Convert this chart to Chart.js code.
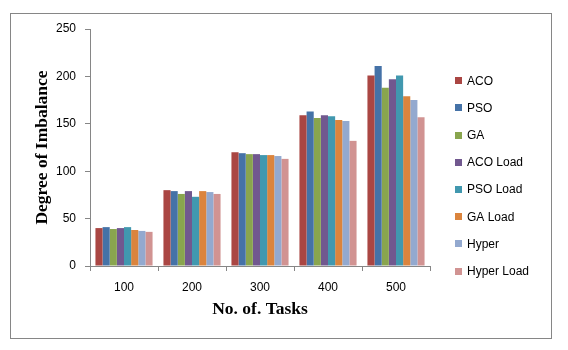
<!DOCTYPE html>
<html>
<head>
<meta charset="utf-8">
<script src="https://cdn.jsdelivr.net/npm/chart.js@4"></script>
<style>
  html, body { margin: 0; padding: 0; background: #ffffff; }
  #wrap { width: 568px; height: 350px; }
</style>
</head>
<body>
<div id="wrap"><canvas id="chart" width="568" height="350"></canvas></div>
<script>
// Number of tasks per experiment
const categories = ['100', '200', '300', '400', '500'];

// Degree of imbalance for each algorithm
const aco       = [40, 80, 120, 159, 201];
const pso       = [41, 79, 119, 163, 211];
const ga        = [39, 76, 118, 156, 188];
const acoLoad   = [40, 79, 118, 159, 197];
const psoLoad   = [41, 73, 117, 158, 201];
const gaLoad    = [38, 79, 117, 154, 179];
const hyper     = [37, 78, 116, 153, 175];
const hyperLoad = [36, 76, 113, 132, 157];

const seriesNames = ['ACO', 'PSO', 'GA', 'ACO Load', 'PSO Load', 'GA Load', 'Hyper', 'Hyper Load'];
const seriesValues = [aco, pso, ga, acoLoad, psoLoad, gaLoad, hyper, hyperLoad];
const seriesColors = ['#AA4643', '#4572A7', '#89A54E', '#71588F', '#4198AF', '#DB843D', '#93A9CF', '#D19392'];

const yTicks = [0, 50, 100, 150, 200, 250];

const axisGray = '#868686';
const tickFont = { family: 'Liberation Sans, Arial, sans-serif', size: 12 };
const titleFont = { family: 'Liberation Serif, Times New Roman, serif', size: 17.5, weight: 'bold' };

// Outer frame around the whole chart
const framePlugin = {
  id: 'frame',
  beforeDraw(chart) {
    const ctx = chart.ctx;
    ctx.save();
    ctx.fillStyle = '#ffffff';
    ctx.fillRect(0, 0, chart.width, chart.height);
    ctx.strokeStyle = axisGray;
    ctx.lineWidth = 1;
    ctx.strokeRect(10.5, 13.5, 541, 325);
    ctx.restore();
  }
};

// Vertical legend on the right, built from the datasets
const sideLegend = {
  id: 'sideLegend',
  afterDraw(chart) {
    const ctx = chart.ctx;
    ctx.save();
    ctx.font = '12px Liberation Sans, Arial, sans-serif';
    ctx.textBaseline = 'middle';
    ctx.textAlign = 'left';
    chart.data.datasets.forEach((ds, i) => {
      const cy = 80.7 + i * 27.2;
      ctx.fillStyle = ds.backgroundColor;
      ctx.fillRect(455, Math.round(cy - 3.5), 7, 7);
      ctx.fillStyle = '#000000';
      ctx.fillText(ds.label, 467, cy + 0.5);
    });
    ctx.restore();
  }
};

new Chart(document.getElementById('chart'), {
  type: 'bar',
  data: {
    labels: categories,
    datasets: seriesNames.map((name, i) => ({
      label: name,
      data: seriesValues[i],
      backgroundColor: seriesColors[i],
      borderWidth: 0,
      categoryPercentage: 0.84,
      barPercentage: 1.0
    }))
  },
  options: {
    responsive: false,
    devicePixelRatio: 1,
    animation: false,
    layout: { padding: { left: 20, top: 29, right: 138, bottom: 24 } },
    plugins: {
      legend: { display: false },
      tooltip: { enabled: false }
    },
    scales: {
      x: {
        grid: {
          offset: true,
          drawOnChartArea: false,
          drawTicks: true,
          tickLength: 5,
          color: axisGray
        },
        border: { display: true, color: axisGray, width: 1 },
        ticks: { font: tickFont, color: '#000000', padding: 9, maxRotation: 0 },
        title: {
          display: true,
          text: 'No. of. Tasks',
          font: titleFont,
          color: '#000000',
          padding: { top: 0, bottom: 6 }
        },
        afterFit(scale) { scale.height = 60; }
      },
      y: {
        min: 0,
        max: 250,
        afterBuildTicks(scale) { scale.ticks = yTicks.map(v => ({ value: v })); },
        grid: {
          drawOnChartArea: false,
          drawTicks: true,
          tickLength: 5,
          color: axisGray
        },
        border: { display: true, color: axisGray, width: 1 },
        ticks: { font: tickFont, color: '#000000', padding: 9 },
        title: {
          display: true,
          text: 'Degree of Imbalance',
          font: titleFont,
          color: '#000000',
          padding: { top: 12, bottom: 0 }
        },
        afterFit(scale) { scale.width = 70; }
      }
    }
  },
  plugins: [framePlugin, sideLegend]
});
</script>
</body>
</html>
